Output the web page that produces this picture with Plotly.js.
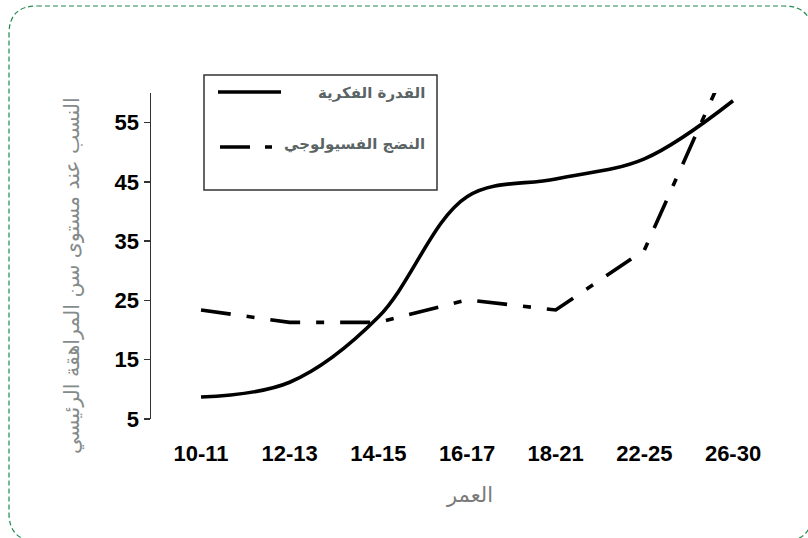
<!DOCTYPE html>
<html>
<head>
<meta charset="utf-8">
<script src="https://cdn.plot.ly/plotly-3.0.1.min.js"></script>
<style>
  html, body { margin: 0; padding: 0; background: #fff; }
  #chart { width: 808px; height: 538px; }
</style>
</head>
<body>
<div id="chart"></div>
<script>
// ---- data ----
const categories = ['10-11', '12-13', '14-15', '16-17', '18-21', '22-25', '26-30'];
const cognitiveAbility = [8.7, 11.2, 22.2, 42.5, 45.5, 48.9, 58.7];
const physiologicalMaturity = [23.4, 21.3, 21.3, 25.1, 23.4, 33.5, 67];
const yTickValues = [5, 15, 25, 35, 45, 55];
const seriesNames = ['القدرة الفكرية', 'النضج الفسيولوجي'];
const xTitle = 'العمر';
const yTitle = 'النسب عند مستوى سن المراهقة الرئيسي';

// ---- geometry (pixels) ----
const W = 808, H = 538;
const M = { l: 151, r: 48, t: 93, b: 119 };
const PW = W - M.l - M.r, PH = H - M.t - M.b;
const px = v => (v - M.l) / PW;          // pixel x -> paper x
const py = v => (H - M.b - v) / PH;      // pixel y -> paper y

const dashPattern = '30px,16px,8px,16px';
const arabicFont = 'DejaVu Sans, Noto Sans, sans-serif';
const tickFont = { family: 'Liberation Sans, Arial, sans-serif', size: 22, weight: 'bold', color: '#000' };

const traces = [
  {
    x: categories, y: cognitiveAbility, name: seriesNames[0],
    type: 'scatter', mode: 'lines',
    line: { color: '#000', width: 3.6, shape: 'spline', smoothing: 1 },
    showlegend: false, hoverinfo: 'x+y'
  },
  {
    x: categories, y: physiologicalMaturity, name: seriesNames[1],
    type: 'scatter', mode: 'lines',
    line: { color: '#000', width: 3.6, dash: dashPattern },
    showlegend: false, hoverinfo: 'x+y'
  }
];

// rounded dashed frame
function roundedRect(x0, y0, x1, y1, r) {
  const X = v => px(v).toFixed(5), Y = v => py(v).toFixed(5);
  return 'M' + X(x0 + r) + ',' + Y(y0) +
    ' L' + X(x1 - r) + ',' + Y(y0) +
    ' Q' + X(x1) + ',' + Y(y0) + ' ' + X(x1) + ',' + Y(y0 + r) +
    ' L' + X(x1) + ',' + Y(y1 - r) +
    ' Q' + X(x1) + ',' + Y(y1) + ' ' + X(x1 - r) + ',' + Y(y1) +
    ' L' + X(x0 + r) + ',' + Y(y1) +
    ' Q' + X(x0) + ',' + Y(y1) + ' ' + X(x0) + ',' + Y(y1 - r) +
    ' L' + X(x0) + ',' + Y(y0 + r) +
    ' Q' + X(x0) + ',' + Y(y0) + ' ' + X(x0 + r) + ',' + Y(y0) + ' Z';
}

const shapes = [
  { type: 'path', xref: 'paper', yref: 'paper', path: roundedRect(9, 6, 812, 541, 28),
    line: { color: '#1f8a4c', width: 1.2, dash: '5px,3px' }, layer: 'below' },
  // legend box
  { type: 'rect', xref: 'paper', yref: 'paper', x0: px(204), x1: px(437), y0: py(75), y1: py(190),
    line: { color: '#333', width: 1.5 }, fillcolor: 'rgba(0,0,0,0)' },
  // legend samples
  { type: 'line', xref: 'paper', yref: 'paper', x0: px(218), x1: px(281), y0: py(92), y1: py(92),
    line: { color: '#000', width: 3.6 } },
  { type: 'line', xref: 'paper', yref: 'paper', x0: px(220), x1: px(274), y0: py(147), y1: py(147),
    line: { color: '#000', width: 3.6, dash: '30px,15px,7px,40px' } }
];

const annotations = [
  { xref: 'paper', yref: 'paper', x: px(427), y: py(93), xanchor: 'right', yanchor: 'middle',
    text: seriesNames[0], showarrow: false,
    font: { family: arabicFont, size: 15, weight: 'bold', color: '#5a6464' } },
  { xref: 'paper', yref: 'paper', x: px(427), y: py(144), xanchor: 'right', yanchor: 'middle',
    text: seriesNames[1], showarrow: false,
    font: { family: arabicFont, size: 15, weight: 'bold', color: '#5a6464' } },
  // axis titles
  { xref: 'paper', yref: 'paper', x: px(469), y: py(495), xanchor: 'center', yanchor: 'middle',
    text: xTitle, showarrow: false,
    font: { family: arabicFont, size: 21, color: '#7a7a7a' } },
  { xref: 'paper', yref: 'paper', x: px(72), y: py(276), xanchor: 'center', yanchor: 'middle',
    text: yTitle, showarrow: false, textangle: -90,
    font: { family: arabicFont, size: 20.5, color: '#858a8a' } }
];

const layout = {
  width: W, height: H,
  margin: M,
  paper_bgcolor: '#fff', plot_bgcolor: '#fff',
  showlegend: false,
  xaxis: {
    type: 'category', range: [-0.564, 6.304],
    showgrid: false, zeroline: false, showline: false,
    ticks: 'outside', ticklen: 15, tickcolor: 'rgba(0,0,0,0)',
    tickfont: tickFont,
    automargin: false
  },
  yaxis: {
    range: [5, 60], tickvals: yTickValues,
    showgrid: false, zeroline: false,
    showline: true, linecolor: '#333', linewidth: 1.5,
    ticks: 'outside', ticklen: 6, tickwidth: 1.5, tickcolor: '#333',
    tickfont: tickFont,
    automargin: false
  },
  shapes: shapes,
  annotations: annotations
};

Plotly.newPlot('chart', traces, layout, { displayModeBar: false, staticPlot: true });
</script>
</body>
</html>
